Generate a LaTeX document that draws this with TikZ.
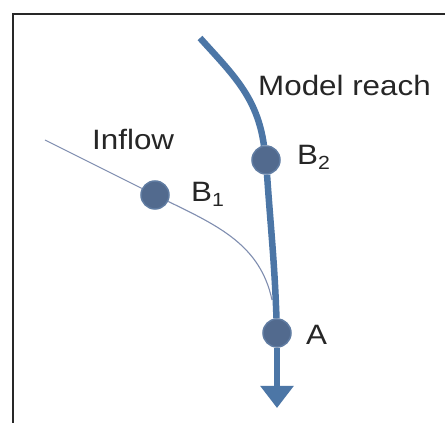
\documentclass[tikz,border=0pt]{standalone}
\usepackage{fontspec}
\setmainfont[FakeStretch=1.12]{Liberation Sans}
\usetikzlibrary{arrows.meta,positioning}
\definecolor{rio}{RGB}{76,118,166}
\definecolor{punto}{RGB}{82,106,142}
\definecolor{bordepunto}{RGB}{96,124,162}
\definecolor{afluente}{RGB}{128,142,176}
\definecolor{marco}{RGB}{40,40,40}
\newcommand{\sub}[1]{\raisebox{-5pt}{\fontsize{19}{20}\selectfont #1}}

\begin{document}
\begin{tikzpicture}[x=1pt,y=1pt,
nodo/.style={circle,fill=punto,draw=bordepunto,line width=1.5pt,minimum size=28pt,inner sep=0pt},
reach/.style={draw=rio,line width=6.5pt},
inflow/.style={draw=afluente,line width=1.1pt},
lbl/.style={font=\fontsize{28}{30}\selectfont,text=black!85,anchor=base west,inner sep=0pt}
]
\useasboundingbox (0,0) rectangle (445,423);
\fill[white] (0,0) rectangle (445,423);
\begin{scope}
\clip (0,0) rectangle (445,423);
\draw[marco,line width=2pt] (13,-20) -- (13,409) -- (470,409);
\end{scope}

% puntos
\coordinate (inicio) at (200,385);
\coordinate (entrada) at (45,283);
\coordinate (union) at (272,123);
\coordinate (salida) at (277,15);
\node[nodo] (b2) at (266,263) {};
\node[nodo] (b1) at (155,228) {};
\node[nodo] (a) at (277,90) {};

% tramos
\draw[inflow] (entrada) -- (b1);
\draw[inflow] (b1) to[out=-26,in=102] (union);
\draw[reach] (inicio) to[out=-48,in=98] (b2);
\draw[reach] (b2) to[out=-86,in=92] (a);
\draw[reach,-{Triangle[width=32pt,length=22pt]}] (a) -- (salida);

% textos
\node[lbl] (modelo) at (258,327) {Model reach};
\node[lbl] (entrada-txt) at (92,273) {Inflow};
\node[lbl] (b2-txt) at (297,258) {B\sub{2}};
\node[lbl] (b1-txt) at (191,221) {B\sub{1}};
\node[lbl] (a-txt) at (306,78) {A};
\end{tikzpicture}
\end{document}
